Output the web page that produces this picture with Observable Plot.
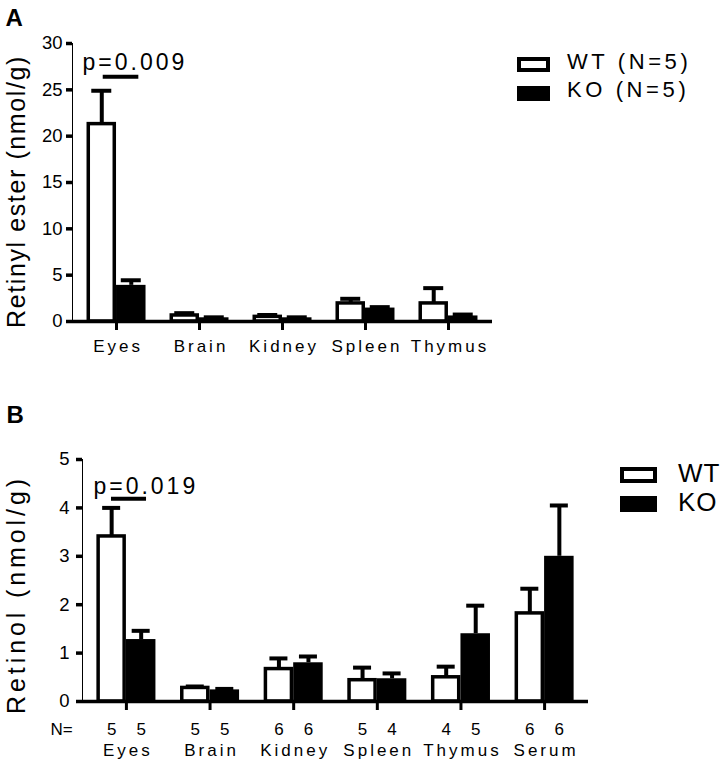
<!DOCTYPE html>
<html>
<head>
<meta charset="utf-8">
<script src="https://cdn.jsdelivr.net/npm/d3@7"></script>
<script src="https://cdn.jsdelivr.net/npm/@observablehq/plot@0.6"></script>
<style>
  body { margin: 0; background: #fff; }
  #wrap { position: relative; width: 727px; height: 772px; font-family: "Liberation Sans", Arial, sans-serif; color: #000; }
  #wrap svg { display: block; }
  #wrap svg g[aria-label^="y-axis"] path, #wrap svg g[aria-label^="y-axis"] line { stroke-width: 3.5px; stroke: #000; }
  #wrap svg g[aria-label^="x-axis"] path, #wrap svg g[aria-label^="x-axis"] line { stroke-width: 3px; stroke: #000; }
  .sw { position: absolute; box-sizing: border-box; border: 4px solid #000; background: #fff; }
  .sw.ko { background: #000; }
  .lt { position: absolute; line-height: 1; white-space: nowrap; color: #000; }
</style>
</head>
<body>
<div id="wrap"></div>
<script>
// ---------- Data: panel A (Retinyl ester, nmol/g) ----------
const catsA = ["Eyes", "Brain", "Kidney", "Spleen", "Thymus"];
const wtA = [21.3, 0.65, 0.5, 1.95, 1.95];
const wtAErr = [3.6, 0.25, 0.2, 0.5, 1.65];
const koA = [3.9, 0.4, 0.4, 1.45, 0.6];
const koAErr = [0.55, 0.05, 0.05, 0.1, 0.15];
const yTicksA = [0, 5, 10, 15, 20, 25, 30];
const legendA = ["WT (N=5)", "KO (N=5)"];

// ---------- Data: panel B (Retinol, nmol/g) ----------
const catsB = ["Eyes", "Brain", "Kidney", "Spleen", "Thymus", "Serum"];
const wtB = [3.41, 0.28, 0.67, 0.44, 0.5, 1.82];
const wtBErr = [0.59, 0.03, 0.22, 0.26, 0.22, 0.51];
const koB = [1.28, 0.24, 0.8, 0.47, 1.4, 3.0];
const koBErr = [0.18, 0.02, 0.13, 0.11, 0.58, 1.05];
const nWT = [5, 5, 6, 5, 4, 6];
const nKO = [5, 5, 6, 4, 5, 6];
const yTicksB = [0, 1, 2, 3, 4, 5];
const legendB = ["WT", "KO"];

// significance annotations
const sigA = {cat: "Eyes", label: "p=0.009", lineY: 26.4, textY: 27.1};
const sigB = {cat: "Eyes", label: "p=0.019", lineY: 4.19, textY: 4.29};

const W = 727;
const FONT = '"Liberation Sans", Arial, sans-serif';

function panel(o) {
  const rows = o.cats.map((c, i) => ({cat: c, wt: o.wt[i], wtE: o.wtErr[i], ko: o.ko[i], koE: o.koErr[i],
    nW: o.nWT ? o.nWT[i] : null, nK: o.nKO ? o.nKO[i] : null}));
  const range = W - o.ml - o.mr;
  const step = range / (o.cats.length - o.pi + 2 * o.po);
  const bw = step * (1 - o.pi);
  const half = bw / 2, q = bw / 4, cw = o.capW / 2;
  const marks = [
    Plot.barY(rows, {x: "cat", y: "wt", fill: "white", stroke: "black", strokeWidth: 3.5,
      insetLeft: 1.75, insetRight: half + 1.75}),
    Plot.barY(rows, {x: "cat", y: "ko", fill: "black", insetLeft: half, insetRight: 0}),
    Plot.ruleX(rows, {x: "cat", y1: "wt", y2: d => d.wt + d.wtE, dx: -q, stroke: "black", strokeWidth: 4}),
    Plot.tickY(rows, {x: "cat", y: d => d.wt + d.wtE, insetLeft: q - cw, insetRight: bw - q - cw, stroke: "black", strokeWidth: 4}),
    Plot.ruleX(rows, {x: "cat", y1: "ko", y2: d => d.ko + d.koE, dx: q, stroke: "black", strokeWidth: 4}),
    Plot.tickY(rows, {x: "cat", y: d => d.ko + d.koE, insetLeft: 3 * q - cw, insetRight: q - cw, stroke: "black", strokeWidth: 4}),
    Plot.ruleY([0], {stroke: "black", strokeWidth: 3.5}),
    Plot.tickY([o.sig], {x: "cat", y: "lineY", insetLeft: o.sigInL, insetRight: o.sigInR, stroke: "black", strokeWidth: 4}),
    Plot.text([o.sig], {x: "cat", y: "textY", text: "label", dx: o.sigDx, textAnchor: "start", lineAnchor: "bottom", fontSize: 23}),
    Plot.text([o.yTitle], {frameAnchor: "left", text: d => d, rotate: -90, textAnchor: "middle", lineAnchor: "middle",
      dx: o.titleDx, dy: o.titleDy, fontSize: 25}),
    Plot.text([o.letter], {frameAnchor: "top-left", text: d => d, textAnchor: "start", lineAnchor: "top",
      dx: o.letterDx, dy: o.letterDy, fontSize: 24, fontWeight: "bold"})
  ];
  if (o.nWT) {
    marks.push(
      Plot.text(rows, {x: "cat", text: "nW", frameAnchor: "bottom", dx: -q, dy: 33, lineAnchor: "bottom", fontSize: 17}),
      Plot.text(rows, {x: "cat", text: "nK", frameAnchor: "bottom", dx: q, dy: 33, lineAnchor: "bottom", fontSize: 17}),
      Plot.text(["N="], {frameAnchor: "bottom-left", text: d => d, textAnchor: "start", lineAnchor: "bottom", dx: -32, dy: 33, fontSize: 17})
    );
  }
  const svg = Plot.plot({
    width: W,
    height: o.height,
    marginTop: o.mt, marginBottom: o.mb, marginLeft: o.ml, marginRight: o.mr,
    style: {fontFamily: FONT, fontSize: "18px", background: "white", color: "black", overflow: "visible"},
    x: {type: "band", domain: o.cats, paddingInner: o.pi, paddingOuter: o.po, round: false, label: null,
      tickSize: 9, tickPadding: o.xPad},
    y: {domain: [0, o.yMax], ticks: o.ticks, tickFormat: d3.format("d"), tickSize: 6, tickPadding: o.yPad, label: null, line: true},
    marks
  });
  const s = d3.select(svg);
  s.selectAll('g[aria-label^="x-axis"] text').style("letter-spacing", "3px").style("font-size", "17px").attr("dx", "1.5");
  s.selectAll('g[aria-label^="y-axis"] text').style("font-size", "18.5px");
  s.selectAll("text").filter(function () { return this.textContent === o.yTitle; }).style("letter-spacing", o.titleLs);
  s.selectAll("text").filter(function () { return this.textContent === o.sig.label; }).style("letter-spacing", "3px");
  return svg;
}

const wrap = document.getElementById("wrap");

wrap.appendChild(panel({
  cats: catsA, wt: wtA, wtErr: wtAErr, ko: koA, koErr: koAErr, ticks: yTicksA, yMax: 30,
  height: 386, mt: 43, mb: 65, ml: 72, mr: 235, pi: 0.289, po: 0.175, capW: 20,
  xPad: 9, yPad: 4,
  sig: sigA, sigInL: 16.2, sigInR: 7.2, sigDx: -34,
  yTitle: "Retinyl ester (nmol/g)", titleDx: -56, titleDy: 9, titleLs: "1.6px",
  letter: "A", letterDx: -67, letterDy: -35
}));

wrap.appendChild(panel({
  cats: catsB, wt: wtB, wtErr: wtBErr, ko: koB, koErr: koBErr, ticks: yTicksB, yMax: 5,
  nWT: nWT, nKO: nKO,
  height: 386, mt: 73, mb: 71, ml: 82, mr: 139, pi: 0.294, po: 0.172, capW: 18,
  xPad: 33, yPad: 7,
  sig: sigB, sigInL: 14.6, sigInR: 9.4, sigDx: -33,
  yTitle: "Retinol (nmol/g)", titleDx: -66, titleDy: 14, titleLs: "3.9px",
  letter: "B", letterDx: -76, letterDy: -54
}));

// ---------- Legends ----------
function legend(labels, o) {
  labels.forEach((lab, i) => {
    const sw = document.createElement("div");
    sw.className = "sw" + (i === 1 ? " ko" : "");
    Object.assign(sw.style, {left: o.x + "px", top: (o.swTop + i * o.gap) + "px", width: o.sw + "px", height: o.sh + "px"});
    wrap.appendChild(sw);
    const t = document.createElement("div");
    t.className = "lt";
    t.textContent = lab;
    Object.assign(t.style, {left: o.tx + "px", top: (o.tTop + i * o.gap) + "px", fontSize: o.fs + "px", letterSpacing: o.ls});
    wrap.appendChild(t);
  });
}
legend(legendA, {x: 517, swTop: 57, sw: 33, sh: 15, gap: 28.5, tx: 567, tTop: 50.5, fs: 22, ls: "3.6px"});
legend(legendB, {x: 620, swTop: 467, sw: 37, sh: 16, gap: 28.5, tx: 678, tTop: 460, fs: 26, ls: "1px"});
</script>
</body>
</html>
